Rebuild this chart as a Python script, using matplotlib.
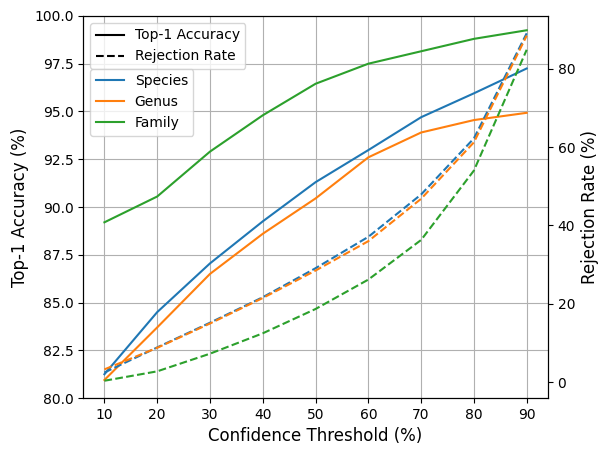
import matplotlib
matplotlib.use("Agg")
import matplotlib.pyplot as plt
from matplotlib.lines import Line2D

thresholds = [10, 20, 30, 40, 50, 60, 70, 80, 90]

acc_species = [81.25, 84.5, 87.05, 89.25, 91.3, 92.98, 94.7, 95.95, 97.25]
acc_genus = [80.95, 83.7, 86.5, 88.6, 90.45, 92.6, 93.9, 94.55, 94.93]
acc_family = [89.2, 90.55, 92.9, 94.8, 96.45, 97.5, 98.15, 98.8, 99.25]

rej_species = [2.5, 8.9, 15.2, 21.7, 29.1, 37.1, 47.9, 62.2, 89.0]
rej_genus = [3.3, 8.8, 15.0, 21.5, 28.5, 36.0, 46.8, 61.2, 88.4]
rej_family = [0.4, 2.8, 7.3, 12.5, 18.7, 26.2, 36.3, 54.0, 84.8]

names = ['Species', 'Genus', 'Family']
colors = ['tab:blue', 'tab:orange', 'tab:green']

fig, ax1 = plt.subplots(figsize=(6.08, 4.55), dpi=100)
ax2 = ax1.twinx()

accs = [acc_species, acc_genus, acc_family]
rejs = [rej_species, rej_genus, rej_family]
for name, c, a, r in zip(names, colors, accs, rejs):
    ax1.plot(thresholds, a, color=c, linestyle='-', label=name)
    ax2.plot(thresholds, r, color=c, linestyle='--')

ax1.set_ylim(80, 100)
ax1.set_xticks(thresholds)
ax1.grid(True)
ax1.set_xlabel('Confidence Threshold (%)', fontsize=12)
ax1.set_ylabel('Top-1 Accuracy (%)', fontsize=12)
ax2.set_ylabel('Rejection Rate (%)', fontsize=12)

style_handles = [Line2D([0], [0], color='black', linestyle='-'),
                 Line2D([0], [0], color='black', linestyle='--')]
leg1 = ax1.legend(style_handles, ['Top-1 Accuracy', 'Rejection Rate'], loc='upper left')
ax1.add_artist(leg1)
ax1.legend(loc='upper left', bbox_to_anchor=(0, 0.88))

fig.subplots_adjust(left=0.137, right=0.901, top=0.965, bottom=0.125)
fig.savefig('out.png')
